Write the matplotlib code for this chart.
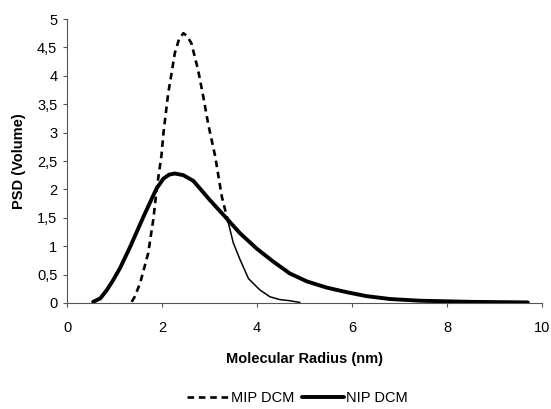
import numpy as np
import matplotlib
matplotlib.use("Agg")
import matplotlib.pyplot as plt
from matplotlib.ticker import FuncFormatter

# --- Data ---
mip_x = [1.36, 1.42, 1.54, 1.71, 1.82, 1.89, 1.99, 2.03, 2.08, 2.13,
         2.20, 2.27, 2.36, 2.45, 2.53, 2.62, 2.76, 2.87, 2.97, 3.12, 3.26,
         3.40]
mip_y = [0.02, 0.10, 0.35, 0.88, 1.49, 2.02, 2.61, 2.99, 3.34, 3.69,
         4.04, 4.40, 4.65, 4.75, 4.70, 4.57, 4.10, 3.63, 3.16, 2.58, 1.87,
         1.40]
# descending tail of MIP (drawn thin/solid in the reference scan)
mip_tail_x = [3.40, 3.50, 3.64, 3.82, 4.06, 4.27, 4.48, 4.69, 4.90]
mip_tail_y = [1.40, 1.06, 0.77, 0.43, 0.23, 0.11, 0.06, 0.04, 0.01]

nip_x = [0.55, 0.70, 0.84, 0.97, 1.12, 1.33, 1.61, 1.82, 1.89, 2.03,
         2.15, 2.27, 2.45, 2.66, 3.01, 3.36, 3.64, 3.99, 4.34, 4.69, 5.05,
         5.47, 5.89, 6.31, 6.80, 7.43, 8.50, 9.70]
nip_y = [0.02, 0.08, 0.23, 0.40, 0.62, 0.99, 1.52, 1.90, 2.02, 2.19,
         2.26, 2.28, 2.25, 2.15, 1.81, 1.49, 1.23, 0.96, 0.73, 0.52, 0.38,
         0.27, 0.19, 0.12, 0.07, 0.04, 0.02, 0.01]

x_ticks = [0, 2, 4, 6, 8, 10]
y_ticks = [0, 0.5, 1, 1.5, 2, 2.5, 3, 3.5, 4, 4.5, 5]

plt.rcParams["font.family"] = ["Liberation Sans", "DejaVu Sans"]

fig = plt.figure(figsize=(5.51, 4.09), dpi=100)
ax = fig.add_axes([0.1216, 0.2592, 0.8621, 0.6943])

line_mip, = ax.plot(mip_x, mip_y, color="black", linewidth=1.9,
                    linestyle=(0, (2.5, 1.8)), label="MIP DCM")
ax.plot(mip_tail_x, mip_tail_y, color="black", linewidth=1.1)
line_nip, = ax.plot(nip_x, nip_y, color="black", linewidth=2.8,
                    label="NIP DCM", solid_capstyle="round",
                    solid_joinstyle="round")

ax.set_xlim(0, 10)
ax.set_ylim(0, 5)
ax.set_xticks(x_ticks)
ax.set_yticks(y_ticks)
ax.yaxis.set_major_formatter(FuncFormatter(
    lambda v, p: ("%g" % v).replace(".", ",")))

for side in ["top", "right"]:
    ax.spines[side].set_visible(False)
for side in ["left", "bottom"]:
    ax.spines[side].set_color("#555555")
    ax.spines[side].set_linewidth(0.8)

ax.tick_params(axis="both", direction="out", length=3, width=0.8,
               color="#555555", labelsize=10.5)
ax.tick_params(axis="x", pad=10)
ax.tick_params(axis="y", pad=4)

ax.set_xlabel("Molecular Radius (nm)", fontsize=10.5, fontweight="bold",
              labelpad=12)
ax.set_ylabel("PSD (Volume)", fontsize=10.5, fontweight="bold", labelpad=8)

fig.legend(handles=[line_mip, line_nip], loc="center",
           bbox_to_anchor=(0.54, 0.027), ncol=2, frameon=False,
           fontsize=10.5, handlelength=2.9, handletextpad=0.15,
           columnspacing=0.5)

fig.savefig("out.png", dpi=100)
